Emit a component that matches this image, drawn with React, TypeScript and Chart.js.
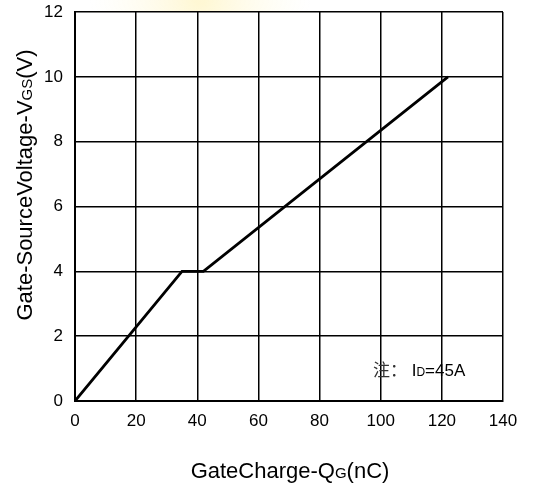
import React, { useEffect, useRef } from "react";
import { Chart, registerables } from "chart.js";
Chart.register(...registerables);

const chargeNC = [0, 35, 42, 122];
const gateVoltage = [0, 4, 4, 10];
const xTicks = [0, 20, 40, 60, 80, 100, 120, 140];
const yTicks = [0, 2, 4, 6, 8, 10, 12];

type Seg = { t: string; size: number; family?: string; color?: string };

function drawSegs(ctx: CanvasRenderingContext2D, segs: Seg[], x: number, y: number, align: "left" | "center") {
  const fam = "'Liberation Sans', Arial, sans-serif";
  let total = 0;
  const widths = segs.map((s) => {
    ctx.font = `${s.size}px ${s.family || fam}`;
    const w = ctx.measureText(s.t).width;
    total += w;
    return w;
  });
  let cx = align === "center" ? x - total / 2 : x;
  ctx.textBaseline = "alphabetic";
  ctx.textAlign = "left";
  segs.forEach((s, i) => {
    ctx.font = `${s.size}px ${s.family || fam}`;
    ctx.fillStyle = s.color || "#000";
    ctx.fillText(s.t, cx, y);
    cx += widths[i];
  });
}

const decorPlugin = {
  id: "decor",
  beforeDraw(chart: any) {
    const ctx = chart.ctx as CanvasRenderingContext2D;
    ctx.save();
    const g = ctx.createRadialGradient(200, 0, 5, 200, 0, 110);
    g.addColorStop(0, "rgba(255,240,170,0.5)");
    g.addColorStop(1, "rgba(255,250,220,0)");
    ctx.fillStyle = g;
    ctx.fillRect(80, 0, 240, 11);
    ctx.restore();
  },
  afterDraw(chart: any) {
    const ctx = chart.ctx as CanvasRenderingContext2D;
    ctx.save();
    drawSegs(ctx, [
      { t: "GateCharge-Q", size: 22 },
      { t: "G", size: 15 },
      { t: "(nC)", size: 22 },
    ], 290, 478, "center");
    ctx.translate(32, 185);
    ctx.rotate(-Math.PI / 2);
    drawSegs(ctx, [
      { t: "Gate-SourceVoltage-V", size: 22 },
      { t: "GS", size: 15 },
      { t: "(V)", size: 22 },
    ], 0, 0, "center");
    ctx.restore();
    ctx.save();
    drawSegs(ctx, [
      { t: "注：", size: 17, family: "'Noto Sans CJK SC', sans-serif", color: "#333" },
      { t: " I", size: 17 },
      { t: "D", size: 12 },
      { t: "=45A", size: 17 },
    ], 373, 376, "left");
    ctx.restore();
  },
};

export default function App() {
  const ref = useRef<HTMLCanvasElement>(null);
  useEffect(() => {
    const font = { size: 17, family: "'Liberation Sans', Arial, sans-serif" };
    const chart = new Chart(ref.current!, {
      type: "scatter",
      data: {
        datasets: [
          {
            data: chargeNC.map((x, i) => ({ x, y: gateVoltage[i] })),
            showLine: true,
            borderColor: "#000",
            borderWidth: 2.8,
            pointRadius: 0,
            tension: 0,
          },
        ],
      },
      options: {
        animation: false,
        responsive: false,
        events: [],
        layout: { padding: { left: 0, top: 12, right: 30, bottom: 0 } },
        plugins: { legend: { display: false }, tooltip: { enabled: false } },
        scales: {
          x: {
            type: "linear",
            min: 0,
            max: 140,
            afterBuildTicks: (s: any) => { s.ticks = xTicks.map((v) => ({ value: v })); },
            afterFit: (s: any) => { s.height = 84; s.paddingLeft = 0; s.paddingRight = 0; },
            grid: { color: "#000", lineWidth: 1.5, drawTicks: false },
            border: { color: "#000", width: 2 },
            ticks: { color: "#000", padding: 10, font, maxRotation: 0 },
          },
          y: {
            type: "linear",
            min: 0,
            max: 12,
            afterBuildTicks: (s: any) => { s.ticks = yTicks.map((v) => ({ value: v })); },
            afterFit: (s: any) => { s.width = 75; s.paddingTop = 0; s.paddingBottom = 0; },
            grid: { color: "#000", lineWidth: 1.5, drawTicks: false },
            border: { color: "#000", width: 2 },
            ticks: { color: "#000", padding: 12, font },
          },
        },
      },
      plugins: [decorPlugin],
    });
    return () => chart.destroy();
  }, []);
  return (
    <div style={{ position: "fixed", left: 0, top: 0, width: 533, height: 485, background: "#fff" }}>
      <canvas ref={ref} width={533} height={485} style={{ width: 533, height: 485 }} />
    </div>
  );
}
